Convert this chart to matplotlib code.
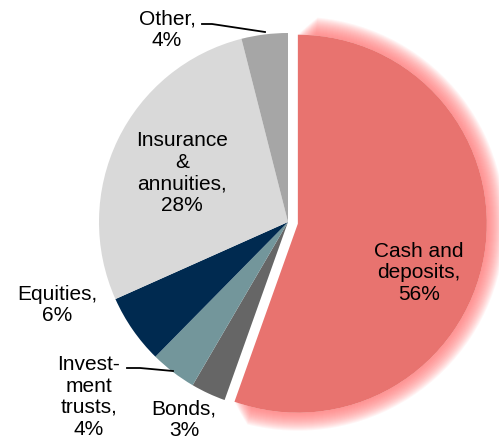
import numpy as np
import matplotlib
matplotlib.use("Agg")
import matplotlib.pyplot as plt
from matplotlib.patches import Wedge

# household financial assets, share of total (%)
categories = ["Cash and\ndeposits", "Bonds", "Invest-\nment\ntrusts", "Equities",
              "Insurance\n&\nannuities", "Other"]
shares = [56, 3, 4, 6, 28, 4]
colors = ["#E8736F", "#666666", "#73969B", "#002A50", "#D9D9D9", "#A6A6A6"]

# label anchors in pixel space (x, y from top)
label_pos = [(419, 273), (184, 420), (89, 397), (57, 305), (182, 173), (167, 30)]

W, H = 499, 443
fig = plt.figure(figsize=(W / 100, H / 100), dpi=100)
ax = fig.add_axes([0, 0, 1, 1])

explode = [10, 0, 0, 0, 0, 0]
wedges, _ = ax.pie(shares, colors=colors, startangle=90, counterclock=False,
                   explode=explode, center=(288, H - 222), radius=189,
                   wedgeprops=dict(linewidth=0), frame=True)
ax.set_xlim(0, W)
ax.set_ylim(0, H)
ax.set_aspect("equal")
ax.axis("off")

# soft glow along the outer arc of the cash slice, tapering at both ends
cash = wedges[0]
for k in range(1, 19):
    taper = 0.3 * k
    g = Wedge(cash.center, cash.r + k, cash.theta1 + taper, cash.theta2 - taper,
              width=k, facecolor="#FF6F6F", edgecolor="none", alpha=0.065, zorder=0)
    ax.add_patch(g)
cash.set_zorder(2)

for name, val, (px, py) in zip(categories, shares, label_pos):
    ax.text(px, H - py, f"{name},\n{val}%", ha="center", va="center",
            fontsize=15, family="Liberation Sans", color="black",
            linespacing=1.17, zorder=5)

# leader lines for the small slices
ax.plot([202, 212, 265], [H - 24, H - 24, H - 32], color="black", lw=1.3, zorder=4)
ax.plot([127, 140, 173], [H - 368, H - 368, H - 371], color="black", lw=1.3, zorder=4)

fig.savefig("out.png", dpi=100)
